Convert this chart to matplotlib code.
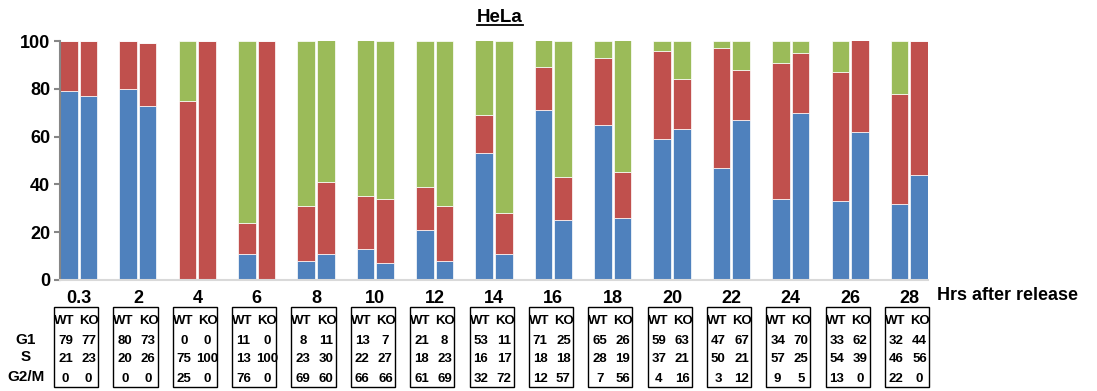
import numpy as np
import matplotlib
matplotlib.use("Agg")
import matplotlib.pyplot as plt
from matplotlib.patches import Rectangle
from matplotlib.lines import Line2D
from matplotlib.transforms import blended_transform_factory

plt.rcParams['font.family'] = ['Liberation Sans', 'DejaVu Sans']
plt.rcParams['font.weight'] = 'bold'

hours = ['0.3', '2', '4', '6', '8', '10', '12', '14', '16', '18', '20', '22', '24', '26', '28']

# cell-cycle percentages per time point
wt_g1 = [79, 80, 0, 11, 8, 13, 21, 53, 71, 65, 59, 47, 34, 33, 32]
wt_s = [21, 20, 75, 13, 23, 22, 18, 16, 18, 28, 37, 50, 57, 54, 46]
wt_g2m = [0, 0, 25, 76, 69, 66, 61, 32, 12, 7, 4, 3, 9, 13, 22]

ko_g1 = [77, 73, 0, 0, 11, 7, 8, 11, 25, 26, 63, 67, 70, 62, 44]
ko_s = [23, 26, 100, 100, 30, 27, 23, 17, 18, 19, 21, 21, 25, 39, 56]
ko_g2m = [0, 0, 0, 0, 60, 66, 69, 72, 57, 56, 16, 12, 5, 0, 0]

BLUE, RED, GREEN = '#4F81BD', '#C0504D', '#9BBB59'

W, H = 1097, 391
fig = plt.figure(figsize=(W / 100, H / 100), dpi=100)
ax = fig.add_axes([60 / W, 1 - 280 / H, 868 / W, 239 / H])

x = np.arange(len(hours))
bw = 0.296
off = 0.165

for xs, g1, s, g2m in [(x - off, wt_g1, wt_s, wt_g2m), (x + off, ko_g1, ko_s, ko_g2m)]:
    g1 = np.array(g1); s = np.array(s); g2m = np.array(g2m)
    ax.bar(xs, g1, bw, color=BLUE, edgecolor='white', linewidth=0.5)
    ax.bar(xs, s, bw, bottom=g1, color=RED, edgecolor='white', linewidth=0.5)
    ax.bar(xs, g2m, bw, bottom=g1 + s, color=GREEN, edgecolor='white', linewidth=0.5)

ax.set_xlim(-off - bw / 2, x[-1] + off + bw / 2)
ax.set_ylim(0, 100)
ax.set_yticks([0, 20, 40, 60, 80, 100])
ax.set_xticks(x)
ax.set_xticklabels(hours, fontsize=13, fontweight='bold')
ax.tick_params(axis='x', length=0, pad=7)
ax.tick_params(axis='y', length=4, width=1.5, color='#868686', pad=3, labelsize=13)
for t in ax.get_yticklabels():
    t.set_fontweight('bold')

for side in ['top', 'right']:
    ax.spines[side].set_visible(False)
ax.spines['left'].set_color('#868686')
ax.spines['left'].set_linewidth(1.5)
ax.spines['bottom'].set_color('#d9d9d9')
ax.spines['bottom'].set_linewidth(1.5)

fig.text(937 / W, 1 - 296 / H, 'Hrs after release', fontsize=13, fontweight='bold',
         ha='left', va='center')

# title with underline
title = fig.text(500 / W, 1 - 17 / H, 'HeLa', fontsize=13.5, fontweight='bold',
                 ha='center', va='center')
fig.canvas.draw()
bb = title.get_window_extent().transformed(fig.transFigure.inverted())
fig.add_artist(Line2D([bb.x0, bb.x1], [bb.y0 + 0.002, bb.y0 + 0.002],
                      transform=fig.transFigure, color='black', lw=1.3))

# value tables below each time point
tr = blended_transform_factory(ax.transData, fig.transFigure)
box_w = 0.745
box_top, box_bot = 1 - 307 / H, 1 - 387 / H
row_y = [1 - 321 / H, 1 - 341 / H, 1 - 359 / H, 1 - 379 / H]
for i in x:
    cx = i - 0.04
    fig.add_artist(Rectangle((cx - box_w / 2, box_bot), box_w, box_top - box_bot,
                             transform=tr, fill=False, edgecolor='black', lw=1.0,
                             clip_on=False))
    fig.text(cx - 0.2, row_y[0], 'WT', transform=tr, ha='center', va='center',
             fontsize=9.5, fontweight='bold')
    fig.text(cx + 0.22, row_y[0], 'KO', transform=tr, ha='center', va='center',
             fontsize=9.5, fontweight='bold')
    for r, (wv, kv) in enumerate([(wt_g1[i], ko_g1[i]), (wt_s[i], ko_s[i]),
                                  (wt_g2m[i], ko_g2m[i])]):
        fig.text(cx - 0.18, row_y[r + 1], str(wv), transform=tr, ha='center',
                 va='center', fontsize=9.5, fontweight='bold')
        fig.text(cx + 0.21, row_y[r + 1], str(kv), transform=tr, ha='center',
                 va='center', fontsize=9.5, fontweight='bold')

for lab, yy in zip(['G1', 'S', 'G2/M'], [1 - 340 / H, 1 - 357 / H, 1 - 377 / H]):
    fig.text(26 / W, yy, lab, ha='center', va='center', fontsize=11, fontweight='bold')

fig.savefig('out.png', dpi=100)
